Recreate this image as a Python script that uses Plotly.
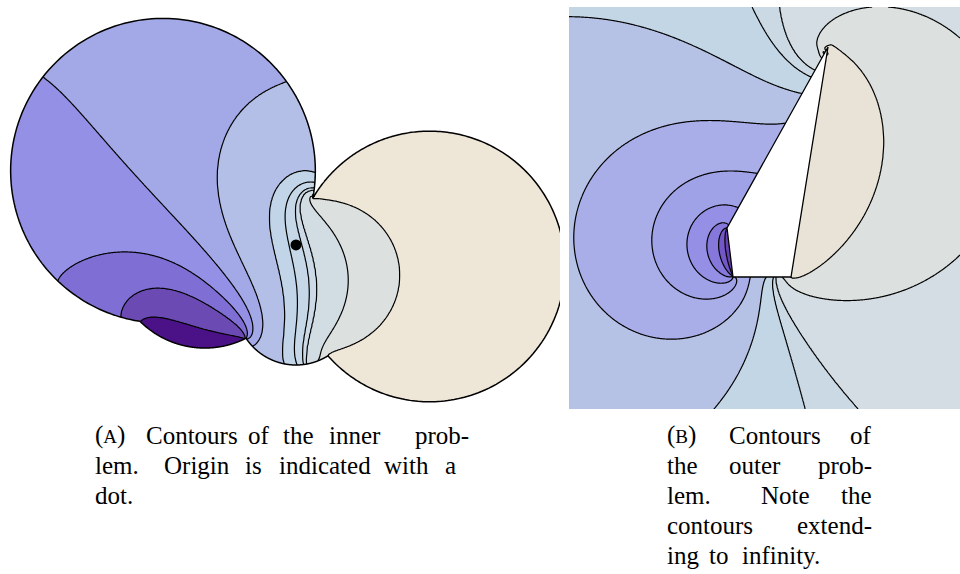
import numpy as np
import plotly.graph_objects as go

# ---------------- problem data ----------------
# obstacle of the outer problem, counter-clockwise: T, L, BL, BR
obstacle_x = [0.573, -0.437, -0.377, 0.203]
obstacle_y = [1.596, -0.214, -0.704, -0.704]

# Dirichlet data on each edge, given as (edge parameter, value) knots
edge_tl_t = [0.0, 0.082, 0.16, 0.252, 0.366, 0.604, 0.792, 0.911, 0.976, 1.0]
edge_tl_u = [9.6, 9.0, 8.0, 7.0, 6.0, 5.0, 4.0, 3.0, 2.0, 1.5]
edge_left_t = [0.0, 1.0]
edge_left_u = [-1.0, -1.0]
edge_bottom_t = [0.0, 0.12, 0.35, 0.59, 0.71, 0.78, 0.87, 1.0]
edge_bottom_u = [4.5, 5.0, 6.0, 7.0, 8.0, 9.0, 10.0, 10.5]
edge_right_t = [0.0, 1.0]
edge_right_u = [12.5, 12.5]

# contour levels and fill colours of the two panels
inner_levels = [0.35, 2.0, 3.0, 3.96, 5.03, 6.77, 7.60, 8.28, 8.64, 9.98, 11.26]
inner_colors = ["#4B1287", "#6B4BB3", "#7F6ED3", "#9490E6", "#A3A8E6", "#B3BFE6",
                "#C2D5E8", "#C6D7E7", "#CBDAE6", "#D2DDE3", "#DCE0DE", "#EEE6D6"]
outer_levels = [-0.36, 0.52, 1.82, 3.20, 4.50, 5.78, 6.97, 7.95, 8.4, 9.75, 11.07]
outer_colors = ["#6741AF", "#7257C7", "#8677DB", "#9590E6", "#A0A2E8", "#A9AEE8",
                "#B5C2E6", "#C3D6E6", "#CBD9E4", "#D3DDE3", "#DCE0DE", "#E9E3D7"]

VERTS = np.array(obstacle_x) + 1j * np.array(obstacle_y)
NV = len(VERTS)
KNOTS = [(edge_tl_t, edge_tl_u), (edge_left_t, edge_left_u),
         (edge_bottom_t, edge_bottom_u), (edge_right_t, edge_right_u)]


def nearest_boundary(z, eps=1e-5):
    """Inside-obstacle flag, point pushed just outside, nearest edge and its parameter."""
    inside = np.ones(z.shape, bool)
    best = np.full(z.shape, np.inf)
    zb = z.copy()
    eidx = np.zeros(z.shape, int)
    tpar = np.zeros(z.shape)
    for i in range(NV):
        p, q = VERTS[i], VERTS[(i + 1) % NV]
        d = q - p
        rel = z - p
        inside &= (np.conj(d) * rel).imag > 0
        t = np.clip((np.conj(d) * rel).real / abs(d) ** 2, 0, 1)
        c = p + t * d
        dist = np.abs(z - c)
        better = dist < best
        best = np.where(better, dist, best)
        zb = np.where(better, c + eps * (-1j * d / abs(d)), zb)
        eidx = np.where(better, i, eidx)
        tpar = np.where(better, t, tpar)
    return inside, np.where(inside, zb, z), eidx, tpar


def boundary_data(eidx, tpar):
    g = np.zeros(tpar.shape)
    for i, (kt, ku) in enumerate(KNOTS):
        sel = eidx == i
        g[sel] = np.interp(tpar[sel], kt, ku)
    return g


def invert(w):
    """w -> 1 / conj(w); the origin goes to (numerical) infinity."""
    r2 = np.abs(w) ** 2
    small = r2 < 1e-14
    return np.where(small, 1e9 + 0j, w / np.where(small, 1.0, r2))


# ---------------- inner problem: finite differences + conjugate gradients ----------------
h = 0.014
xa = np.arange(-3.52, 3.14 + h, h)
ya = np.arange(-1.97, 2.92 + h, h)
WA = xa[None, :] + 1j * ya[:, None]
obst, _, eA, tA = nearest_boundary(invert(WA))
dom = ~obst
dom[0, :] = dom[-1, :] = dom[:, 0] = dom[:, -1] = False
G = np.where(dom, 0.0, boundary_data(eA, tA))
maskf = dom.astype(float)


def nsum(P):
    s = np.zeros_like(P)
    s[1:, :] += P[:-1, :]
    s[:-1, :] += P[1:, :]
    s[:, 1:] += P[:, :-1]
    s[:, :-1] += P[:, 1:]
    return s


def lap(P):
    return (4.0 * P - nsum(P)) * maskf


b = nsum(G) * maskf
X = np.where(dom, 6.0, 0.0)
r = b - lap(X)
p = r.copy()
rs = (r * r).sum()
bn = (b * b).sum()
for it in range(6000):
    Ap = lap(p)
    alpha = rs / (p * Ap).sum()
    X += alpha * p
    r -= alpha * Ap
    rs_new = (r * r).sum()
    if rs_new < 1e-22 * bn:
        break
    p = r + (rs_new / rs) * p
    rs = rs_new
UA = np.where(dom, X, G)


def sample_inner(w):
    fx = np.clip((w.real - xa[0]) / h, 0, len(xa) - 1.0001)
    fy = np.clip((w.imag - ya[0]) / h, 0, len(ya) - 1.0001)
    i0 = np.floor(fx).astype(int)
    j0 = np.floor(fy).astype(int)
    ax = fx - i0
    ay = fy - j0
    return ((1 - ax) * (1 - ay) * UA[j0, i0] + ax * (1 - ay) * UA[j0, i0 + 1]
            + (1 - ax) * ay * UA[j0 + 1, i0] + ax * ay * UA[j0 + 1, i0 + 1])


# ---------------- outer problem: Kelvin transform of the inner solution ----------------
bx_rng = (-2.017, 1.893)
by_rng = (-2.024, 1.996)
xb = np.linspace(bx_rng[0], bx_rng[1], 401)
yb = np.linspace(by_rng[0], by_rng[1], 411)
ZB = xb[None, :] + 1j * yb[:, None]
_, ZBp, _, _ = nearest_boundary(ZB)
UB = sample_inner(invert(ZBp))


def to_index(u, levels):
    """Monotone relabelling so that the given levels sit at 1, 2, 3, ..."""
    lv = np.asarray(levels, float)
    xp = np.concatenate([[min(u.min(), lv[0]) - 1], lv, [max(u.max(), lv[-1]) + 1]])
    return np.interp(u, xp, np.arange(len(xp), dtype=float))


def stepscale(colors):
    n = len(colors) - 1
    return [[k / n, c] for k, c in enumerate(colors)]


ax_rng = (-3.503, 3.124)
ay_rng = (-1.953, 2.899)

fig = go.Figure()
nA = len(inner_levels)
fig.add_trace(go.Contour(
    x=xa, y=ya, z=np.round(to_index(UA, inner_levels), 4),
    contours=dict(start=1, end=nA, size=1, coloring="fill"),
    colorscale=stepscale(inner_colors), showscale=False, hoverinfo="skip",
    line=dict(color="black", width=1.2), xaxis="x", yaxis="y"))
nB = len(outer_levels)
fig.add_trace(go.Contour(
    x=xb, y=yb, z=np.round(to_index(UB, outer_levels), 4),
    contours=dict(start=1, end=nB, size=1, coloring="fill"),
    colorscale=stepscale(outer_colors), showscale=False, hoverinfo="skip",
    line=dict(color="black", width=1.2), xaxis="x2", yaxis="y2"))

# origin of the inner problem
fig.add_trace(go.Scatter(x=[0], y=[0], mode="markers",
                         marker=dict(color="black", size=11),
                         hoverinfo="skip", xaxis="x", yaxis="y", showlegend=False))

# inner domain boundary = image of the obstacle boundary
pts = []
for i in range(NV):
    pa, pb = VERTS[i], VERTS[(i + 1) % NV]
    t = np.linspace(0, 1, 400, endpoint=False)
    pts.append(pa + t * (pb - pa))
bnd = invert(np.concatenate(pts))
inner_path = "M " + " L ".join(f"{v.real:.4f},{v.imag:.4f}" for v in bnd) + " Z"
mask_path = "M -30,-30 L 30,-30 L 30,30 L -30,30 Z " + inner_path
obst_path = "M " + " L ".join(f"{v.real:.4f},{v.imag:.4f}" for v in VERTS) + " Z"

shapes = [
    dict(type="path", path=mask_path, xref="x", yref="y", fillcolor="white",
         fillrule="evenodd", line=dict(color="black", width=1.5), layer="above"),
    dict(type="path", path=obst_path, xref="x2", yref="y2", fillcolor="white",
         line=dict(color="black", width=1.3), layer="above"),
]

# captions, one annotation per word (justified lines)
SERIF = "Liberation Serif"
SC = "<span style='font-size:19px'>{}</span>"
caption_words = [
    ("(" + SC.format("A") + ")", 93, "left", 444), ("Contours", 191.5, "center", 444),
    ("of", 259, "center", 444), ("the", 298.5, "center", 444), ("inner", 355, "center", 444),
    ("prob-", 471, "right", 444),
    ("lem.", 93, "left", 474), ("Origin", 197, "center", 474), ("is", 253.5, "center", 474),
    ("indicated", 324.5, "center", 474), ("with", 406.5, "center", 474), ("a", 458, "right", 474),
    ("dot.", 93, "left", 504),
    ("(" + SC.format("B") + ")", 665, "left", 444), ("Contours", 775, "center", 444),
    ("of", 874, "right", 444),
    ("the", 665, "left", 474), ("outer", 755, "center", 474), ("prob-", 874, "right", 474),
    ("lem.", 665, "left", 504), ("Note", 785, "center", 504), ("the", 874, "right", 504),
    ("contours", 665, "left", 534), ("extend-", 874, "right", 534),
    ("ing", 665, "left", 564), ("to", 718, "center", 564), ("infinity.", 781, "center", 564),
]
annotations = [
    dict(text=tx, x=xp / 960, y=1 - (bl - 9) / 574, xref="paper", yref="paper",
         xanchor=anc, yanchor="middle", showarrow=False,
         font=dict(family=SERIF, size=25, color="black"))
    for tx, xp, anc, bl in caption_words
]

fig.update_layout(
    width=960, height=574, margin=dict(l=0, r=0, t=0, b=0),
    paper_bgcolor="white", plot_bgcolor="white", showlegend=False,
    xaxis=dict(domain=[0, 560 / 960], range=list(ax_rng), visible=False),
    yaxis=dict(domain=[164 / 574, 1], range=list(ay_rng), visible=False),
    xaxis2=dict(domain=[569 / 960, 1], range=list(bx_rng), visible=False),
    yaxis2=dict(domain=[165 / 574, 567 / 574], range=list(by_rng), visible=False),
    shapes=shapes,
    annotations=annotations,
)
fig.write_html("out.html")
